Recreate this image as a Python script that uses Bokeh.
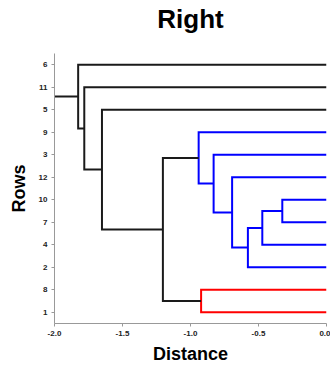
from bokeh.plotting import figure
from bokeh.models import ColumnDataSource, FixedTicker, PrintfTickFormatter, Range1d, Title
from bokeh.embed import file_html
from bokeh.resources import INLINE

# Leaves, bottom to top
leaf_labels = ["1", "8", "2", "4", "7", "10", "12", "3", "9", "5", "11", "6"]
# Merges: (child_a, child_b, distance, color); children are leaf labels or "C<n>"
merge_a = ["10", "C1", "C2", "12", "3", "9", "8", "C6", "5", "11", "6"]
merge_b = ["7", "4", "2", "C3", "C4", "C5", "1", "C7", "C8", "C9", "C10"]
merge_dist = [-0.325, -0.472, -0.578, -0.694, -0.83, -0.94, -0.922, -1.203, -1.651, -1.781, -1.826]
merge_color = ["#0000ff"] * 6 + ["#ff0000"] + ["#1a1a1a"] * 4
root_dist = -2.0
x_ticks = [-2.0, -1.5, -1.0, -0.5, 0.0]
title_text = "Right"

FONT = "Liberation Sans"

ypos = {lab: i + 1 for i, lab in enumerate(leaf_labels)}
xpos = {lab: 0.0 for lab in leaf_labels}
xs, ys, cols = [], [], []
for k, (a, b, d, c) in enumerate(zip(merge_a, merge_b, merge_dist, merge_color)):
    name = "C%d" % (k + 1)
    xs.append([xpos[a], d, d, xpos[b]])
    ys.append([ypos[a], ypos[a], ypos[b], ypos[b]])
    cols.append(c)
    ypos[name] = (ypos[a] + ypos[b]) / 2.0
    xpos[name] = d
last = "C%d" % len(merge_a)
xs.append([xpos[last], root_dist])
ys.append([ypos[last], ypos[last]])
cols.append(merge_color[-1])

src = ColumnDataSource(dict(xs=xs, ys=ys, color=cols))

x0, x1 = -2.0, 0.0
y0, y1 = 0.5, len(leaf_labels) + 0.5
p = figure(width=330, height=366, output_backend="svg", toolbar_location=None,
           x_range=Range1d(x0, x1), y_range=Range1d(y0, y1), title=None,
           min_border_left=54, min_border_right=4, min_border_top=53, min_border_bottom=43)
p.multi_line(xs="xs", ys="ys", line_color="color", line_width=2, source=src,
             line_join="miter", line_cap="butt")

# spacer between frame and title (closest to frame), then the real title
p.add_layout(Title(text=" ", text_font_size="2px", standoff=16), "above")
p.add_layout(Title(text=title_text, align="center", vertical_align="bottom", standoff=0,
                   text_font=FONT, text_font_style="bold", text_font_size="26px",
                   text_color="#000000"), "above")

p.xgrid.visible = False
p.ygrid.visible = False
p.outline_line_color = None
p.background_fill_color = "white"
p.border_fill_color = "white"

for ax in (p.xaxis[0], p.yaxis[0]):
    ax.axis_line_color = "#999999"
    ax.major_tick_line_color = "#999999"
    ax.minor_tick_line_color = None
    ax.major_tick_out = 3
    ax.major_tick_in = 0
    ax.major_label_text_font = FONT
    ax.major_label_text_font_style = "bold"
    ax.major_label_text_font_size = "8px"
    ax.major_label_text_color = "#222222"
    ax.axis_label_text_font = FONT
    ax.axis_label_text_font_style = "bold"
    ax.axis_label_text_font_size = "18px"
    ax.axis_label_text_color = "#000000"

p.xaxis.ticker = FixedTicker(ticks=x_ticks)
p.xaxis.formatter = PrintfTickFormatter(format="%.1f")
p.xaxis.axis_label = "Distance"
p.xaxis.major_label_standoff = 4
p.xaxis.axis_label_standoff = 5

p.yaxis.ticker = FixedTicker(ticks=list(range(1, len(leaf_labels) + 1)))
p.yaxis.major_label_overrides = {i + 1: lab for i, lab in enumerate(leaf_labels)}
p.yaxis.axis_label = "Rows"
p.yaxis.major_label_standoff = 4
p.yaxis.axis_label_standoff = 7

open("out.html", "w").write(file_html(p, INLINE))
